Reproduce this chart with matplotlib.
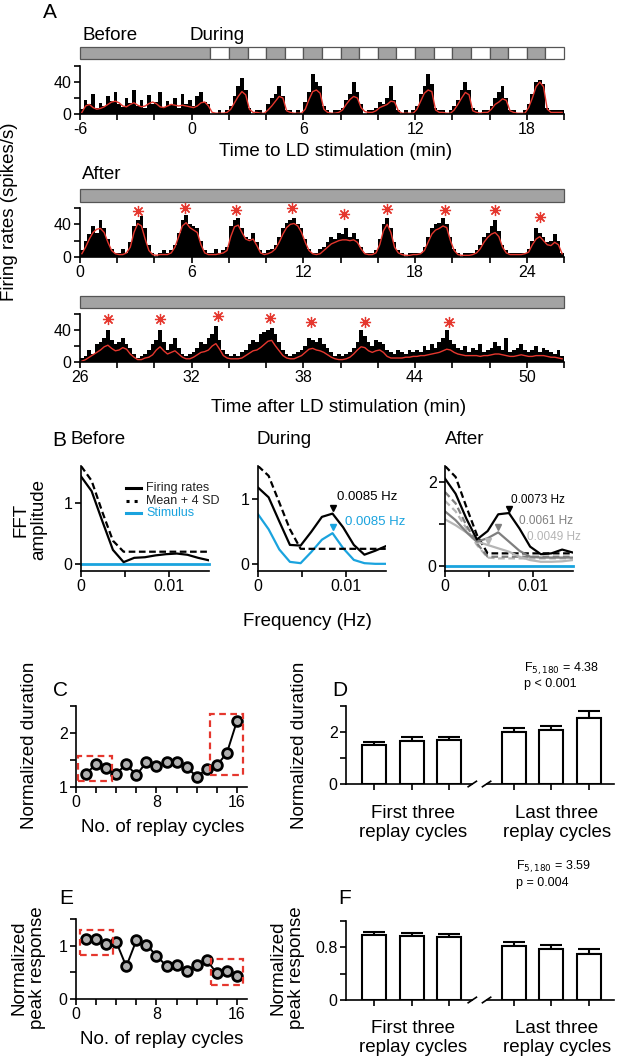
import numpy as np
import matplotlib
matplotlib.use('Agg')
import matplotlib.pyplot as plt
from matplotlib.patches import Rectangle
from matplotlib.lines import Line2D
import matplotlib.transforms as mtransforms

plt.rcParams['font.family'] = ['Liberation Sans', 'DejaVu Sans']

# ---------------- data ----------------
# panel A: firing rate histograms, 0.2 min bins (26 min per row)
a1_start = -6
a1_bars = [6, 18, 12, 25, 8, 14, 10, 22, 16, 28, 12, 9, 20, 14, 30, 10, 18, 8, 24, 12,
           15, 27, 9, 16, 11, 20, 8, 25, 13, 18, 10, 22, 28, 15, 12,
           0, 0, 5, 0, 5,
           10, 22, 35, 45, 30, 8, 0, 5, 5, 0,
           12, 20, 25, 35, 22, 5, 5, 0, 5, 0,
           15, 28, 50, 40, 35, 10, 5, 0, 5, 5,
           8, 18, 25, 40, 28, 12, 0, 5, 5, 8,
           15, 12, 20, 35, 18, 5, 0, 5, 0, 5,
           10, 25, 35, 50, 38, 8, 5, 5, 0, 5,
           10, 18, 30, 40, 30, 8, 5, 0, 5, 5,
           10, 20, 28, 35, 20, 5, 5, 0, 0, 5,
           12, 25, 40, 42, 38, 8, 5, 5, 5, 5]
a1_red = [2, 10, 12, 8, 6, 7, 9, 12, 15, 16, 14, 10, 9, 12, 14, 11, 9, 10, 13, 15,
          13, 9, 8, 10, 12, 11, 10, 11, 10, 9, 8, 10, 14, 15, 10,
          2, 1, 1, 1, 2,
          6, 14, 22, 28, 24, 6, 2, 2, 1, 1,
          5, 10, 16, 22, 20, 4, 2, 1, 1, 1,
          6, 18, 28, 30, 26, 6, 2, 1, 1, 2,
          5, 12, 18, 22, 20, 8, 3, 2, 2, 4,
          8, 10, 12, 16, 15, 4, 1, 1, 1, 1,
          6, 16, 26, 30, 28, 5, 2, 2, 1, 1,
          5, 12, 20, 27, 24, 4, 2, 1, 2, 2,
          6, 12, 15, 19, 17, 4, 2, 1, 1, 1,
          8, 20, 34, 40, 34, 6, 2, 2, 2, 2]
a1_stim_edges = [-6, 1, 2, 3, 4, 5, 6, 7, 8, 9, 10, 11, 12, 13, 14, 15, 16, 17, 18, 19, 20]
a1_stim_dark = [1, 0, 1, 0, 1, 0, 1, 0, 1, 0, 1, 0, 1, 0, 1, 0, 1, 0, 1, 0]

a2_start = 0
a2_bars = [8, 20, 28, 38, 30, 45, 35, 22, 10, 5,
           5, 10, 5,
           18, 38, 45, 50, 35, 15, 5,
           0, 5, 8, 5,
           8, 15, 30, 45, 52, 40, 38, 35, 20, 8,
           5, 5, 10, 5, 8,
           12, 38, 45, 48, 35, 25, 22, 30, 18, 8,
           5, 8, 10,
           15, 25, 35, 42, 45, 48, 40, 35, 22, 10, 5, 5,
           10, 12,
           18, 25, 22, 30, 28, 35, 25, 30, 22, 12, 5,
           5, 5, 8,
           22, 40, 48, 35, 18,
           8, 5, 0, 5, 5, 5,
           5, 12, 25, 35, 40, 42, 48, 40, 25,
           10, 5, 0, 5, 5, 5,
           8, 15, 25, 30, 38, 45, 32, 15,
           8, 5, 5, 5, 5, 5,
           10, 20, 35, 30, 25, 18, 20, 28, 20, 5]
a2_red = [4, 12, 22, 30, 34, 35, 30, 18, 8, 4,
          3, 3, 5,
          12, 30, 41, 38, 22, 8, 3,
          2, 3, 3, 3,
          5, 12, 25, 38, 42, 36, 33, 30, 15, 5,
          3, 3, 3, 4, 5,
          8, 25, 37, 39, 30, 22, 20, 22, 14, 5,
          3, 4, 6,
          10, 18, 28, 36, 40, 41, 38, 30, 18, 8, 4, 3,
          4, 8,
          12, 16, 18, 20, 21, 21, 20, 21, 18, 10, 4,
          3, 3, 5,
          15, 32, 40, 30, 12,
          5, 3, 2, 2, 3, 3,
          4, 8, 18, 28, 33, 35, 38, 36, 20,
          8, 3, 2, 2, 2, 3,
          5, 10, 18, 24, 28, 30, 25, 12,
          5, 3, 3, 3, 3, 4,
          6, 15, 22, 25, 20, 15, 14, 18, 15, 4]
a2_star_t = [3.1, 5.65, 8.4, 11.4, 14.2, 16.5, 19.6, 22.3, 24.7]
a2_star_y = [56.5, 60.5, 57, 60, 53, 58.5, 57, 58, 49]

a3_start = 26
a3_bars = [5, 8, 15, 10, 22, 25, 30, 40, 28, 22,
           25, 30, 22, 18, 10, 5, 8, 10, 15, 22,
           28, 40, 25, 15, 22, 30, 18, 10, 8, 10,
           12, 18, 25, 22, 30, 35, 45, 28, 15, 10,
           8, 10, 8, 12, 15, 22, 28, 25, 35, 38,
           40, 42, 35, 25, 15, 10, 8, 10, 12, 15,
           20, 30, 28, 25, 30, 22, 18, 12, 8, 10,
           8, 10, 12, 18, 25, 40, 32, 25, 20, 28,
           25, 22, 15, 12, 10, 15, 12, 10, 15, 12,
           15, 12, 20, 15, 22, 18, 25, 30, 40, 28,
           22, 18, 15, 20, 12, 18, 15, 22, 12, 15,
           18, 25, 20, 15, 30, 12, 15, 18, 22, 15,
           12, 15, 20, 12, 18, 15, 12, 10, 15, 8]
a3_red = [1, 3, 6, 9, 12, 15, 19, 21, 17, 14,
          15, 18, 16, 10, 6, 3, 3, 5, 6, 9,
          15, 19, 14, 10, 12, 14, 10, 6, 4, 4,
          6, 9, 12, 13, 15, 20, 23, 16, 8, 5,
          4, 4, 4, 5, 8, 11, 14, 15, 18, 22,
          26, 27, 20, 14, 8, 5, 4, 4, 6, 8,
          12, 16, 17, 15, 14, 12, 9, 6, 4, 3,
          3, 4, 6, 10, 15, 19, 18, 14, 12, 14,
          15, 12, 7, 5, 5, 5, 5, 6, 6, 7,
          7, 8, 8, 9, 10, 11, 12, 14, 16, 15,
          12, 10, 9, 8, 8, 8, 8, 7, 8, 8,
          9, 10, 10, 9, 8, 7, 7, 8, 9, 8,
          7, 7, 8, 8, 8, 7, 6, 6, 5, 4]
a3_star_t = [27.5, 30.3, 33.4, 36.2, 38.4, 41.3, 45.8]
a3_star_y = [54, 53.5, 57.5, 55, 50, 50.5, 50]

# panel B: FFT spectra
freq = [0, 0.00121, 0.00243, 0.00364, 0.00486, 0.00607, 0.00729,
        0.0085, 0.00971, 0.01093, 0.01214, 0.01336, 0.01457]
fr_before = [1.43, 1.19, 0.70, 0.23, 0.03, 0.10, 0.11, 0.14, 0.16, 0.17, 0.15, 0.10, 0.06]
thr_before = [1.60, 1.36, 0.85, 0.38, 0.20, 0.20, 0.20, 0.20, 0.20, 0.20, 0.20, 0.20, 0.20]
stim_before = [0, 0, 0, 0, 0, 0, 0, 0, 0, 0, 0, 0, 0]
fr_during = [1.17, 1.02, 0.65, 0.29, 0.28, 0.49, 0.72, 0.77, 0.56, 0.29, 0.14, 0.20, 0.27]
thr_during = [1.50, 1.35, 0.94, 0.53, 0.23, 0.23, 0.23, 0.23, 0.23, 0.23, 0.23, 0.23, 0.23]
stim_during = [0.76, 0.53, 0.22, 0.03, 0.01, 0.18, 0.37, 0.47, 0.24, 0.06, 0.01, 0.0, 0.0]
fr_after1 = [2.08, 1.72, 1.13, 0.63, 0.83, 1.23, 1.26, 0.89, 0.46, 0.28, 0.30, 0.39, 0.32]
thr_after1 = [2.38, 2.12, 1.41, 0.74, 0.30, 0.30, 0.30, 0.30, 0.30, 0.30, 0.30, 0.30, 0.30]
fr_after2 = [1.30, 1.09, 0.81, 0.58, 0.66, 0.80, 0.58, 0.36, 0.22, 0.20, 0.20, 0.20, 0.20]
thr_after2 = [1.76, 1.49, 0.97, 0.54, 0.22, 0.22, 0.22, 0.22, 0.22, 0.22, 0.22, 0.22, 0.22]
fr_after3 = [1.11, 0.97, 0.80, 0.58, 0.50, 0.42, 0.34, 0.22, 0.14, 0.10, 0.10, 0.11, 0.14]
thr_after3 = [1.55, 1.30, 0.90, 0.50, 0.20, 0.18, 0.18, 0.18, 0.18, 0.18, 0.18, 0.18, 0.18]
stim_after = [0, 0, 0, 0, 0, 0, 0, 0, 0, 0, 0, 0, 0]

# panels C-F
cycles = list(range(1, 17))
duration = [1.25, 1.42, 1.36, 1.25, 1.42, 1.22, 1.46, 1.38, 1.46, 1.46,
            1.37, 1.19, 1.33, 1.40, 1.63, 2.22]
peak = [1.12, 1.12, 1.04, 1.07, 0.61, 1.10, 1.02, 0.81, 0.62, 0.63,
        0.53, 0.64, 0.73, 0.48, 0.53, 0.44]
group_labels = ['First three\nreplay cycles', 'Last three\nreplay cycles']
dur_mean = [1.50, 1.66, 1.68, 1.99, 2.06, 2.55]
dur_sem = [0.12, 0.15, 0.13, 0.18, 0.19, 0.24]
peak_mean = [0.985, 0.97, 0.955, 0.825, 0.775, 0.705]
peak_sem = [0.045, 0.045, 0.05, 0.06, 0.06, 0.065]

# ---------------- figure ----------------
W, H = 617, 1061
fig = plt.figure(figsize=(W / 100, H / 100), dpi=100)
RED = '#e5372e'
BLUE = '#1aa3de'
GRAY = '#7f7f7f'
LGRAY = '#b5b5b5'
LAB = 13.5
TICK = 11.5


def add_ax(l, t, r, b):
    return fig.add_axes([l / W, 1 - b / H, (r - l) / W, (b - t) / H])


def ftext(x, y, s, **kw):
    kw.setdefault('ha', 'center')
    kw.setdefault('va', 'center')
    return fig.text(x / W, 1 - y / H, s, **kw)


def style(ax):
    ax.spines['top'].set_visible(False)
    ax.spines['right'].set_visible(False)
    ax.spines['left'].set_linewidth(1.2)
    ax.spines['bottom'].set_linewidth(1.2)
    ax.tick_params(direction='out', length=4, width=1.2, labelsize=TICK, pad=2)
    ax.patch.set_alpha(0)


def spike_panel(top, bottom, t0, bars, red, star_t=None, star_y=None):
    ax = add_ax(80, top, 564, bottom)
    centers = t0 + 0.1 + 0.2 * np.arange(len(bars))
    ax.bar(centers, bars, width=0.2, color='black', linewidth=0)
    ax.plot(centers, red, color=RED, lw=1)
    if star_t is not None:
        ax.plot(star_t, star_y, ls='none', marker=(8, 2, 0), ms=8,
                mec=RED, mew=0.9, clip_on=False)
    ax.set_xlim(t0, t0 + 26)
    ax.set_ylim(0, 60)
    ticks = np.arange(t0, t0 + 27, 2)
    ax.set_xticks(ticks)
    ax.set_xticklabels([str(t) if (t - t0) % 6 == 0 and t - t0 < 26 else '' for t in ticks])
    ax.set_yticks([0, 20, 40, 60])
    ax.set_yticklabels(['0', '', '40', ''])
    style(ax)
    return ax


def stim_bar(top, bottom, edges, dark):
    ax = add_ax(80, top, 564, bottom)
    ax.set_xlim(edges[0], edges[-1])
    ax.set_ylim(0, 1)
    ax.axis('off')
    for i in range(len(dark)):
        ax.add_patch(Rectangle((edges[i], 0), edges[i + 1] - edges[i], 1,
                               fc='#a3a3a3' if dark[i] else 'white',
                               ec='#555555', lw=0.9, clip_on=False))


# ---- A ----
ftext(50, 13, 'A', fontsize=15)
ftext(82, 35, 'Before', fontsize=LAB, ha='left')
ftext(189, 35, 'During', fontsize=LAB, ha='left')
stim_bar(47, 59, a1_stim_edges, a1_stim_dark)
spike_panel(66, 114, a1_start, a1_bars, a1_red)
ftext(336, 152, 'Time to LD stimulation (min)', fontsize=LAB)

ftext(82, 175, 'After', fontsize=LAB, ha='left')
stim_bar(189, 202, [0, 26], [1])
spike_panel(208, 257, a2_start, a2_bars, a2_red, a2_star_t, a2_star_y)

stim_bar(296, 308, [26, 52], [1])
spike_panel(314, 362, a3_start, a3_bars, a3_red, a3_star_t, a3_star_y)
ftext(339, 407, 'Time after LD stimulation (min)', fontsize=LAB)

ftext(10, 212, 'Firing rates (spikes/s)', fontsize=LAB, rotation=90)

# ---- B ----
def fft_axes(left, ylim, yticks, ylabels):
    ax = add_ax(left, 466, left + 128, 571)
    ax.set_xlim(0, 0.0146)
    ax.set_ylim(*ylim)
    ax.set_xticks([0, 0.005, 0.01])
    ax.set_xticklabels(['0', '', '0.01'])
    ax.set_yticks(yticks)
    ax.set_yticklabels(ylabels)
    style(ax)
    return ax


DASH = (3, 1.6)
axb1 = fft_axes(81, (-0.115, 1.6), [0, 1], ['0', '1'])
axb1.plot(freq, stim_before, color=BLUE, lw=2, clip_on=False)
axb1.plot(freq, thr_before, color='black', lw=1.6, dashes=DASH)
axb1.plot(freq, fr_before, color='black', lw=1.6)

axb2 = fft_axes(258, (-0.11, 1.5), [0, 1], ['0', '1'])
axb2.plot(freq, stim_during, color=BLUE, lw=1.6)
axb2.plot(freq, thr_during, color='black', lw=1.6, dashes=DASH)
axb2.plot(freq, fr_during, color='black', lw=1.6)
axb2.plot(freq[7], fr_during[7] + 0.08, marker='v', color='black', ms=5)
axb2.plot(freq[7], stim_during[7] + 0.09, marker='v', color=BLUE, ms=5)

axb3 = fft_axes(445, (-0.12, 2.38), [0, 1, 2], ['0', '', '2'])
axb3.plot(freq, stim_after, color=BLUE, lw=2, clip_on=False)
axb3.plot(freq, thr_after3, color=LGRAY, lw=1.6, dashes=DASH)
axb3.plot(freq, thr_after2, color=GRAY, lw=1.6, dashes=DASH)
axb3.plot(freq, thr_after1, color='black', lw=1.6, dashes=DASH)
axb3.plot(freq, fr_after3, color=LGRAY, lw=1.6)
axb3.plot(freq, fr_after2, color=GRAY, lw=1.6)
axb3.plot(freq, fr_after1, color='black', lw=1.6)
axb3.plot(freq[6], fr_after1[6] + 0.1, marker='v', color='black', ms=5)
axb3.plot(freq[5], fr_after2[5] + 0.12, marker='v', color=GRAY, ms=5)
axb3.plot(freq[4], fr_after3[4] + 0.1, marker='v', color=LGRAY, ms=5)

ftext(52, 440, 'B', fontsize=15, ha='left')
ftext(71, 440, 'Before', fontsize=LAB, ha='left')
ftext(256, 440, 'During', fontsize=LAB, ha='left')
ftext(445, 440, 'After', fontsize=LAB, ha='left')

# legend drawn by hand
for yy, col, ls, txt in [(488, 'black', '-', 'Firing rates'),
                         (501, 'black', ':', 'Mean + 4 SD'),
                         (513, BLUE, '-', 'Stimulus')]:
    fig.add_artist(Line2D([126 / W, 141 / W], [1 - yy / H] * 2, color=col,
                          lw=2.2, ls=ls))
    ftext(146, yy, txt, fontsize=9, ha='left', color=col if col == BLUE else '#222222')

ftext(337, 497, '0.0085 Hz', fontsize=9.5, ha='left')
ftext(345, 522, '0.0085 Hz', fontsize=9.5, ha='left', color=BLUE)
ftext(511, 500, '0.0073 Hz', fontsize=8.5, ha='left')
ftext(519, 521, '0.0061 Hz', fontsize=8.5, ha='left', color=GRAY)
ftext(527, 537, '0.0049 Hz', fontsize=8.5, ha='left', color=LGRAY)

ftext(30, 520, 'FFT\namplitude', fontsize=LAB, rotation=90, linespacing=1.1)
ftext(307, 622, 'Frequency (Hz)', fontsize=LAB)


# ---- C / E ----
def cycle_panel(top, bottom, vals, ylim, yticks, ylabels, boxes):
    ax = add_ax(76, top, 247, bottom)
    ax.plot(cycles, vals, color='black', lw=1.4, marker='o', ms=7,
            mfc='#b0b0b0', mec='black', mew=2, clip_on=False, zorder=3)
    for (x0, y0, x1, y1) in boxes:
        ax.add_patch(Rectangle((x0, y0), x1 - x0, y1 - y0, fill=False, ec=RED,
                               lw=1.6, ls=(0, (3, 2)), clip_on=False, zorder=4))
    ax.set_xlim(0, 17)
    ax.set_ylim(*ylim)
    ax.set_xticks([0, 2, 4, 6, 8, 10, 12, 14, 16])
    ax.set_xticklabels(['0', '', '', '', '8', '', '', '', '16'])
    ax.set_yticks(yticks)
    ax.set_yticklabels(ylabels)
    style(ax)
    return ax


cycle_panel(706, 787, duration, (1, 2.5), [1, 1.5, 2, 2.5], ['1', '', '2', ''],
            [(0.2, 1.12, 3.6, 1.57), (13.3, 1.22, 16.6, 2.35)])
ftext(60, 691, 'C', fontsize=15)
ftext(30, 745, 'Normalized duration', fontsize=LAB, rotation=90)
ftext(163, 827, 'No. of replay cycles', fontsize=LAB)

cycle_panel(919, 999, peak, (0, 1.5), [0, 0.5, 1, 1.5], ['0', '', '1', ''],
            [(0.4, 0.83, 3.7, 1.30), (13.4, 0.27, 16.6, 0.75)])
ftext(66, 899, 'E', fontsize=15)
ftext(28, 968, 'Normalized\npeak response', fontsize=LAB, rotation=90, linespacing=1.1)
ftext(162, 1040, 'No. of replay cycles', fontsize=LAB)

# ---- D / F ----
bar_x = [1, 2, 3, 4.73, 5.73, 6.73]


def bar_panel(top, bottom, means, sems, ymax, yticks, ylabels):
    ax = add_ax(346, top, 614, bottom)
    ax.bar(bar_x, means, width=0.64, color='white', edgecolor='black', lw=1.5, zorder=2)
    ax.errorbar(bar_x, means, yerr=[[0] * len(sems), sems], fmt='none',
                ecolor='black', elinewidth=1.5, capsize=8, capthick=1.5, zorder=1)
    ax.set_xlim(0.25, 7.4)
    ax.set_ylim(0, ymax)
    ax.set_xticks(bar_x)
    ax.set_xticklabels([])
    ax.set_yticks(yticks)
    ax.set_yticklabels(ylabels)
    style(ax)
    ax.spines['bottom'].set_visible(False)
    trans = mtransforms.blended_transform_factory(ax.transData, ax.transAxes)
    ax.plot([0.25, 3.62], [0, 0], color='black', lw=1.2, transform=trans, clip_on=False)
    ax.plot([4.0, 7.4], [0, 0], color='black', lw=1.2, transform=trans, clip_on=False)
    for xb in [3.62, 4.0]:
        ax.plot([xb - 0.11, xb + 0.11], [-0.035, 0.035], color='black', lw=1.2,
                transform=trans, clip_on=False)
    return ax


bar_panel(706, 784, dur_mean, dur_sem, 3, [0, 1, 2, 3], ['0', '', '2', ''])
ftext(340, 691, 'D', fontsize=15)
ftext(300, 745, 'Normalized duration', fontsize=LAB, rotation=90)
ftext(524, 669, r'F$_{5,180}$ = 4.38', fontsize=9, ha='left')
ftext(524, 684, 'p < 0.001', fontsize=9, ha='left')
ftext(413, 823, group_labels[0], fontsize=LAB, linespacing=1.15)
ftext(557, 823, group_labels[1], fontsize=LAB, linespacing=1.15)

bar_panel(921, 1000, peak_mean, peak_sem, 1.2, [0, 0.4, 0.8, 1.2], ['0', '', '0.8', ''])
ftext(345, 898, 'F', fontsize=15)
ftext(287, 968, 'Normalized\npeak response', fontsize=LAB, rotation=90, linespacing=1.1)
ftext(516, 867, r'F$_{5,180}$ = 3.59', fontsize=9, ha='left')
ftext(516, 883, 'p = 0.004', fontsize=9, ha='left')
ftext(413, 1038, group_labels[0], fontsize=LAB, linespacing=1.15)
ftext(557, 1038, group_labels[1], fontsize=LAB, linespacing=1.15)

fig.savefig('out.png', dpi=100)
